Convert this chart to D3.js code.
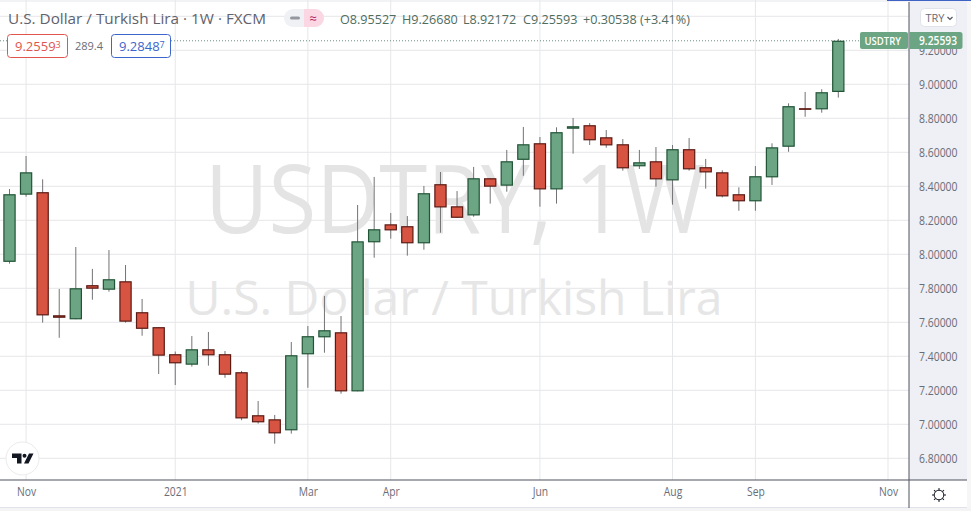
<!DOCTYPE html>
<html>
<head>
<meta charset="utf-8">
<script src="https://d3js.org/d3.v7.min.js"></script>
<style>
  html, body { margin: 0; padding: 0; background: #fff; overflow: hidden; }
  text { font-family: "Open Sans", sans-serif; }
</style>
</head>
<body>
<div id="my_chart"></div>
<script>
// weekly candles
var opens = [7.956, 8.351, 8.365, 7.641, 7.618, 7.818, 7.792, 7.841, 7.659, 7.571, 7.412, 7.351, 7.441, 7.412, 7.306, 7.053, 7.029, 6.965, 7.412, 7.512, 7.541, 7.194, 8.071, 8.176, 8.165, 8.065, 8.412, 8.282, 8.229, 8.447, 8.404, 8.556, 8.653, 8.382, 8.739, 8.759, 8.688, 8.647, 8.518, 8.547, 8.435, 8.618, 8.512, 8.482, 8.353, 8.312, 8.453, 8.633, 8.859, 8.853, 8.95527];
var highs = [8.384, 8.578, 8.441, 7.796, 8.043, 7.914, 8.025, 7.937, 7.737, 7.571, 7.428, 7.519, 7.543, 7.431, 7.314, 7.137, 7.055, 7.484, 7.578, 7.755, 7.637, 8.290, 8.455, 8.243, 8.225, 8.402, 8.484, 8.372, 8.514, 8.447, 8.614, 8.749, 8.690, 8.747, 8.802, 8.772, 8.731, 8.678, 8.614, 8.631, 8.643, 8.684, 8.561, 8.494, 8.394, 8.519, 8.653, 8.888, 8.955, 8.971, 9.2668];
var lows = [7.945, 8.339, 7.598, 7.509, 7.618, 7.733, 7.780, 7.598, 7.521, 7.296, 7.231, 7.339, 7.345, 7.274, 7.024, 7.004, 6.886, 6.945, 7.215, 7.421, 7.180, 7.194, 7.980, 8.092, 7.992, 8.027, 8.127, 8.215, 8.221, 8.298, 8.368, 8.462, 8.280, 8.298, 8.592, 8.643, 8.627, 8.492, 8.502, 8.398, 8.292, 8.492, 8.386, 8.335, 8.256, 8.256, 8.408, 8.603, 8.809, 8.833, 8.92172];
var closes = [8.353, 8.482, 7.641, 7.627, 7.800, 7.798, 7.853, 7.604, 7.562, 7.404, 7.359, 7.441, 7.406, 7.292, 7.035, 7.012, 6.947, 7.406, 7.518, 7.553, 7.194, 8.076, 8.147, 8.141, 8.065, 8.359, 8.276, 8.215, 8.447, 8.398, 8.547, 8.647, 8.382, 8.718, 8.753, 8.671, 8.641, 8.506, 8.541, 8.441, 8.618, 8.500, 8.482, 8.341, 8.312, 8.459, 8.629, 8.871, 8.853, 8.953, 9.25593];

var priceTicks = [6.8, 7.0, 7.2, 7.4, 7.6, 7.8, 8.0, 8.2, 8.4, 8.6, 8.8, 9.0, 9.2, 9.4];
var monthLabels = ["Nov", "2021", "Mar", "Apr", "Jun", "Aug", "Sep", "Nov"];
var monthBars = [1, 10, 18, 23, 32, 40, 45, 53];
var lastClose = 9.25593;
var ohlcTexts = ["O8.95527", "H9.26680", "L8.92172", "C9.25593", "+0.30538", "(+3.41%)"];
var ohlcLefts = [340, 402, 463, 523, 583, 640];

var candles = opens.map(function (o, i) {
  return { i: i, open: o, high: highs[i], low: lows[i], close: closes[i] };
});

var width = 971,
  height = 511,
  paneRight = 909,
  paneBottom = 480,
  axisRight = 967,
  chartBottom = 508;

var upColor = "#6ba583",
  downColor = "#d75442",
  upBorder = "#225437",
  downBorder = "#5b1a13",
  wickColor = "#737375",
  gridColor = "#e6e7ea",
  textColor = "#6a6d78";

var x = d3.scaleLinear().domain([0, 50]).range([9.5, 838.3]);
var y = d3.scaleLinear().domain([6.8, 9.2]).range([458.3, 50.3]);

// the original font is narrower than anything installed, so squeeze the text a bit
function narrow(selection, factor) {
  selection.each(function () {
    d3.select(this)
      .attr("lengthAdjust", "spacingAndGlyphs")
      .attr("textLength", this.getComputedTextLength() * factor);
  });
}

var svg = d3
  .select("#my_chart")
  .append("svg")
  .attr("width", width)
  .attr("height", height)
  .style("display", "block");

// right axis background and outer strips
svg.append("rect").attr("x", paneRight).attr("y", 0).attr("width", axisRight - paneRight).attr("height", paneBottom).attr("fill", "#eef0f5");
svg.append("rect").attr("x", axisRight).attr("y", 0).attr("width", width - axisRight).attr("height", chartBottom).attr("fill", "#f6f6f7");
svg.append("rect").attr("x", 0).attr("y", chartBottom).attr("width", width).attr("height", height - chartBottom).attr("fill", "#f4f4f5");
svg.append("rect").attr("x", 0).attr("y", chartBottom - 1).attr("width", axisRight).attr("height", 1).attr("fill", "#e0e3eb");

// grid
var grid = svg.append("g");
grid
  .selectAll("line.h")
  .data(priceTicks)
  .enter()
  .append("line")
  .attr("x1", 0)
  .attr("x2", paneRight)
  .attr("y1", function (d) { return y(d); })
  .attr("y2", function (d) { return y(d); })
  .attr("stroke", gridColor)
  .attr("stroke-width", 1);
grid
  .selectAll("line.v")
  .data(monthBars)
  .enter()
  .append("line")
  .attr("x1", function (d) { return x(d); })
  .attr("x2", function (d) { return x(d); })
  .attr("y1", 0)
  .attr("y2", paneBottom)
  .attr("stroke", gridColor)
  .attr("stroke-width", 1);
grid.append("line").attr("x1", 0).attr("x2", paneRight).attr("y1", 1).attr("y2", 1).attr("stroke", gridColor);

// watermark
svg.append("text")
  .attr("x", 205)
  .attr("y", 233)
  .attr("font-size", 96)
  .attr("fill", "#e4e4e5")
  .attr("textLength", 500)
  .attr("lengthAdjust", "spacingAndGlyphs")
  .text("USDTRY, 1W");
svg.append("text")
  .attr("x", 454)
  .attr("y", 315)
  .attr("text-anchor", "middle")
  .attr("font-size", 48)
  .attr("fill", "#e6e6e7")
  .text("U.S. Dollar / Turkish Lira");

// dotted last price line
svg.append("line")
  .attr("x1", 0)
  .attr("x2", 860)
  .attr("y1", y(lastClose))
  .attr("y2", y(lastClose))
  .attr("stroke", "#6f8f7f")
  .attr("stroke-dasharray", "1 2");

// candles
var candle = svg.append("g").selectAll("g").data(candles).enter().append("g");

candle
  .append("line")
  .attr("x1", function (d) { return x(d.i); })
  .attr("x2", function (d) { return x(d.i); })
  .attr("y1", function (d) { return y(d.high); })
  .attr("y2", function (d) { return y(d.low); })
  .attr("stroke", wickColor)
  .attr("stroke-width", 1);

candle
  .append("rect")
  .attr("x", function (d) { return x(d.i) - 5.6; })
  .attr("width", 11.2)
  .attr("y", function (d) { return y(Math.max(d.open, d.close)) + 0.5; })
  .attr("height", function (d) {
    return Math.max(y(Math.min(d.open, d.close)) - y(Math.max(d.open, d.close)) - 1, 0.5);
  })
  .attr("fill", function (d) { return d.close >= d.open ? upColor : downColor; })
  .attr("stroke", function (d) { return d.close >= d.open ? upBorder : downBorder; })
  .attr("stroke-width", 1.2);

// price axis
var yAxis = d3.axisRight(y).tickValues(priceTicks.slice(0, -1)).tickSize(0).tickPadding(0).tickFormat(d3.format(".5f"));
var yAxisG = svg.append("g").attr("transform", "translate(" + (paneRight + 10) + ",0)").call(yAxis);
yAxisG.select(".domain").remove();
yAxisG.selectAll("text").attr("font-size", 12).attr("fill", textColor).style("font-family", '"Open Sans", sans-serif').call(narrow, 0.87);

// time axis
var xAxis = d3
  .axisBottom(x)
  .tickValues(monthBars)
  .tickSize(0)
  .tickPadding(0)
  .tickFormat(function (d, i) { return monthLabels[i]; });
var xAxisG = svg.append("g").attr("transform", "translate(0," + (paneBottom + 7) + ")").call(xAxis);
xAxisG.select(".domain").remove();
xAxisG.selectAll("text").attr("font-size", 12).attr("fill", textColor).style("font-family", '"Open Sans", sans-serif').call(narrow, 0.86);

// pane borders
svg.append("line").attr("x1", paneRight).attr("x2", paneRight).attr("y1", 2).attr("y2", chartBottom).attr("stroke", "#50535e").attr("stroke-width", 1);
svg.append("line").attr("x1", 0).attr("x2", axisRight).attr("y1", paneBottom).attr("y2", paneBottom).attr("stroke", "#50535e").attr("stroke-width", 1.2);
svg.append("rect").attr("x", 887).attr("y", 0).attr("width", 84).attr("height", 1).attr("fill", "#3f63c4");

// header
svg.append("text").attr("x", 8).attr("y", 24).attr("font-size", 15.3).attr("fill", "#5f626c").text("U.S. Dollar / Turkish Lira \u00b7 1W \u00b7 FXCM");

svg.append("rect").attr("x", 284).attr("y", 9).attr("width", 40).attr("height", 18).attr("rx", 9).attr("fill", "#f0f1f4");
svg.append("path").attr("d", "M304 9h11a9 9 0 0 1 0 18h-11z").attr("fill", "#fbd6e3");
svg.append("rect").attr("x", 290).attr("y", 16.5).attr("width", 10).attr("height", 3).attr("rx", 1.5).attr("fill", "#9598a1");
svg.append("text").attr("x", 313).attr("y", 23).attr("text-anchor", "middle").attr("font-size", 13).attr("fill", "#b0245c").text("\u2248");

svg.append("g")
  .selectAll("text")
  .data(ohlcTexts)
  .enter()
  .append("text")
  .attr("x", function (d, i) { return ohlcLefts[i]; })
  .attr("y", 24)
  .attr("font-size", 12.6)
  .attr("fill", "#4f6d5f")
  .text(function (d) { return d; });

// bid / ask boxes
svg.append("rect").attr("x", 68).attr("y", 34).attr("width", 43).attr("height", 24).attr("fill", "#fff");
svg.append("rect").attr("x", 7.5).attr("y", 34.5).attr("width", 60).attr("height", 23).attr("rx", 3).attr("fill", "#fff").attr("stroke", "#e0564d");
var bid = svg.append("text").attr("x", 15).attr("y", 51).attr("font-size", 13).attr("fill", "#e0564d");
bid.append("tspan").text("9.2559");
bid.append("tspan").attr("font-size", 9).attr("dy", -3).text("3");

svg.append("text").attr("x", 89).attr("y", 50).attr("text-anchor", "middle").attr("font-size", 11).attr("fill", "#6a6d78").text("289.4");

svg.append("rect").attr("x", 111.5).attr("y", 34.5).attr("width", 59).attr("height", 23).attr("rx", 3).attr("fill", "#fff").attr("stroke", "#3d66cc");
var ask = svg.append("text").attr("x", 119).attr("y", 51).attr("font-size", 13).attr("fill", "#3d66cc");
ask.append("tspan").text("9.2848");
ask.append("tspan").attr("font-size", 9).attr("dy", -3).text("7");

// last price labels
svg.append("rect").attr("x", 860).attr("y", 32).attr("width", 48).attr("height", 17).attr("rx", 2).attr("fill", upColor);
svg.append("text").attr("x", 864.5).attr("y", 45).attr("font-size", 11).attr("font-weight", 600).attr("fill", "#fff").attr("textLength", 36.5).attr("lengthAdjust", "spacingAndGlyphs").text("USDTRY");
svg.append("path").attr("d", "M909.5 32h50.5a2.5 2.5 0 0 1 2.5 2.5v12a2.5 2.5 0 0 1 -2.5 2.5h-50.5z").attr("fill", upColor);
svg.append("text").attr("x", 919).attr("y", 45).attr("font-size", 12).attr("font-weight", 600).attr("fill", "#fff").attr("textLength", 38).attr("lengthAdjust", "spacingAndGlyphs").text("9.25593");

// currency button
svg.append("rect").attr("x", 920.5).attr("y", 8.5).attr("width", 36).attr("height", 18).attr("rx", 4).attr("fill", "#fff").attr("stroke", "#e0e3eb");
svg.append("text").attr("x", 925.5).attr("y", 22).attr("font-size", 11).attr("fill", textColor).text("TRY");
svg.append("path").attr("d", "M947.5 17l2.5 2.5l2.5 -2.5").attr("fill", "none").attr("stroke", "#50535e").attr("stroke-width", 1.2);

// logo
svg.append("circle").attr("cx", 22.5).attr("cy", 458.5).attr("r", 16.5).attr("fill", "#fff").attr("stroke", "#ebebec").attr("stroke-width", 1);
svg.append("path").attr("d", "M12 453.5h9.5v10h-4.5v-5.5h-5z").attr("fill", "#131722");
svg.append("circle").attr("cx", 24.5).attr("cy", 455.8).attr("r", 2).attr("fill", "#131722");
svg.append("path").attr("d", "M29 453.5h4.5l-5 10h-4.5z").attr("fill", "#131722");

// settings icon
var gear = svg.append("g").attr("transform", "translate(939,495)");
gear.append("circle").attr("r", 4.8).attr("fill", "none").attr("stroke", "#131722").attr("stroke-width", 1);
d3.range(8).forEach(function (k) {
  gear.append("line")
    .attr("x1", 0).attr("x2", 0).attr("y1", -4.8).attr("y2", -7)
    .attr("stroke", "#131722")
    .attr("transform", "rotate(" + k * 45 + ")");
});
</script>
</body>
</html>
